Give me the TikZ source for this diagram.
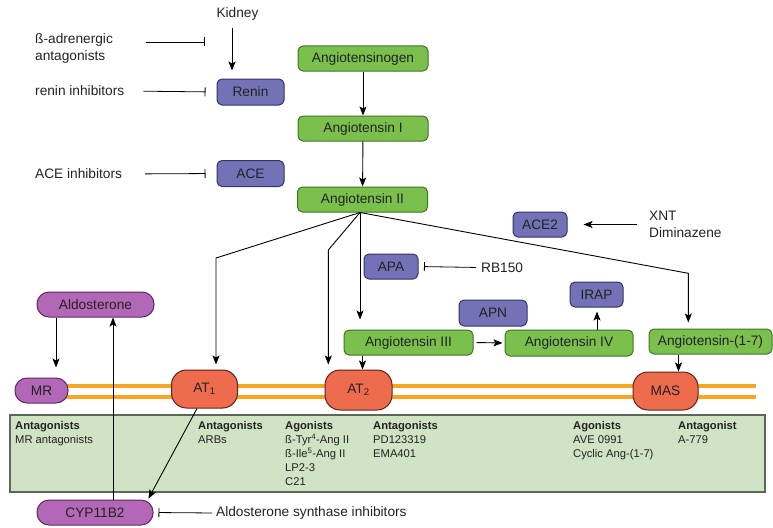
\documentclass[tikz,border=0pt]{standalone}
\usepackage{fontspec}
\setmainfont{Liberation Sans}
\usetikzlibrary{arrows.meta,calc}
\definecolor{txt}{HTML}{222222}
\definecolor{gfill}{HTML}{7BBF4C}
\definecolor{gline}{HTML}{3F7426}
\definecolor{bfill}{HTML}{7472B6}
\definecolor{bline}{HTML}{34336A}
\definecolor{mfill}{HTML}{B268B6}
\definecolor{mline}{HTML}{5E2A62}
\definecolor{rfill}{HTML}{EF6B4E}
\definecolor{rline}{HTML}{5E2418}
\definecolor{memb}{HTML}{F6A623}
\definecolor{pfill}{HTML}{D0E3C4}
\definecolor{pline}{HTML}{5A6857}
\begin{document}
\begin{tikzpicture}[x=1pt,y=-1pt,
  font=\fontsize{13.7}{17.5}\selectfont,
  every node/.style={text=txt},
  box/.style={rounded corners=5pt, line width=1pt, minimum height=25pt, inner sep=0pt},
  green/.style={box, fill=gfill, draw=gline, minimum width=130pt},
  enz/.style={box, fill=bfill, draw=bline, minimum width=54pt},
  mag/.style={box, fill=mfill, draw=mline, rounded corners=12pt},
  rec/.style={draw=rline, fill=rfill, rounded corners=15pt, minimum width=66pt, minimum height=38pt, line width=1pt, inner sep=0pt},
  lbl/.style={inner sep=1pt, align=left},
  ptxt/.style={font=\fontsize{11.2}{14}\selectfont, anchor=north west, inner sep=0pt, align=left},
  panel/.style={draw=pline, fill=pfill, line width=1.2pt, minimum width=755pt, minimum height=77pt, inner sep=0pt},
  arr/.style={-{Stealth[length=9pt,width=7pt,inset=2pt]}, line width=0.9pt},
  inh/.style={-{Bar[width=9pt]}, line width=0.8pt},
  membrane/.style={draw=memb, line width=4pt}]
\useasboundingbox (0,0) rectangle (773,527);

% membrane and panel
\draw[membrane] (60,386) -- (756,386);
\draw[membrane] (60,397) -- (756,397);
\node[panel] (panel) at (387.5,453.5) {};

% left texts
\node[lbl] (kidney) at (237.5,14) {Kidney};
\node[lbl, anchor=west] (beta) at (34,48.5) {ß-adrenergic\\antagonists};
\node[lbl, anchor=west] (ri) at (34,91) {renin inhibitors};
\node[lbl, anchor=west] (acei) at (34,174) {ACE inhibitors};
\coordinate (ba1) at (146,42);
\coordinate (ba2) at (205,42);

% enzymes
\node[enz, minimum width=67pt, minimum height=26pt] (renin) at (250.5,92) {Renin};
\node[enz, minimum width=67pt, minimum height=26pt] (ace) at (250.5,173.5) {ACE};
\node[enz] (ace2) at (540,224.5) {ACE2};
\node[enz] (apa) at (391,266.5) {APA};
\node[enz, minimum width=68pt, minimum height=26pt] (apn) at (493,313) {APN};
\node[enz, minimum width=53pt] (irap) at (596.5,294.5) {IRAP};

% angiotensins
\node[green] (aogen) at (363,58.5) {Angiotensinogen};
\node[green] (ang1) at (363,128.5) {Angiotensin I};
\node[green] (ang2) at (362.5,199.5) {Angiotensin II};
\node[green, minimum width=129pt] (ang3) at (408.5,342.5) {Angiotensin III};
\node[green, minimum width=128pt, minimum height=26pt] (ang4) at (569,343) {Angiotensin IV};
\node[green, minimum width=123pt] (a17) at (710.5,341.5) {Angiotensin-(1-7)};

% other texts
\node[lbl, anchor=west] (xnt) at (648,224.5) {XNT\\Diminazene};
\node[lbl, anchor=west] (rb) at (480,267.5) {RB150};
\node[lbl, anchor=west] (asi) at (215,513) {Aldosterone synthase inhibitors};

% magenta nodes
\node[mag, minimum width=117pt] (ald) at (95.5,304.5) {Aldosterone};
\node[mag, minimum width=53pt] (mr) at (41.5,390.5) {MR};
\node[mag, minimum width=116pt] (cyp) at (95,512.5) {CYP11B2};

% receptors
\node[rec] (at1) at (204.5,389) {AT\textsubscript{1}};
\node[rec, minimum width=67pt, minimum height=40pt] (at2) at (358.5,390) {AT\textsubscript{2}};
\node[rec, minimum width=65pt] (mas) at (665.5,391) {MAS};

% panel texts
\node[ptxt] (c1) at (15,421) {\textbf{Antagonists}\\MR antagonists};
\node[ptxt] (c2) at (198,421) {\textbf{Antagonists}\\ARBs};
\node[ptxt] (c3) at (285,421) {\textbf{Agonists}\\ß-Tyr\textsuperscript{4}-Ang II\\ß-Ile\textsuperscript{5}-Ang II\\LP2-3\\C21};
\node[ptxt] (c4) at (373,421) {\textbf{Antagonists}\\PD123319\\EMA401};
\node[ptxt] (c5) at (573,421) {\textbf{Agonists}\\AVE 0991\\Cyclic Ang-(1-7)};
\node[ptxt] (c6) at (678,421) {\textbf{Antagonist}\\A-779};

% helper coordinates
\coordinate (pk) at ($(kidney.south)+(-5.5,0)$);
\coordinate (a2) at ($(ang2.south)+(-2.5,0)$);
\coordinate (p3) at ($(ang3.south)+(-46,0)$);
\coordinate (p4) at ($(irap.south)+(0.5,0)$);
\coordinate (p17) at ($(a17.south)+(-32,0)$);
\coordinate (pal) at ($(ald.south)+(-39.5,0)$);
\coordinate (pcy) at ($(cyp.north)+(18,0)$);
\coordinate (t1) at ($(at1.north)+(11.5,0)$);
\coordinate (t2) at ($(at2.north)+(-30.2,0)$);
\coordinate (t17) at ($(a17.north)+(-22.2,0)$);
\coordinate (pat) at ($(at1.south)+(-7.5,0)$);
\coordinate (tcy) at ($(cyp.north)+(53,0)$);

% inhibitions
\draw[inh] (ba1) -- (ba2);
\draw[inh, shorten <=18pt, shorten >=11pt] (ri.east) -- (renin.west);
\draw[inh, shorten <=22pt, shorten >=11pt] (acei.east) -- (ace.west);
\draw[inh, shorten <=4pt, shorten >=5.5pt] (rb.west) -- (apa.east);
\draw[inh, shorten <=3pt, shorten >=5pt] (asi.west) -- (cyp.east);

% activations
\draw[arr, shorten <=6pt, shorten >=8pt] (pk) -- (pk |- renin.north);
\draw[arr] (aogen) -- (ang1);
\draw[arr] (ang1) -- (ang2);
\draw[arr, shorten <=11pt, shorten >=16pt] (xnt.west |- ace2.east) -- (ace2.east);
\draw[arr, shorten >=5pt] (a2) -- (216,258) -- (t1);
\draw[arr, shorten >=5pt] (a2) -- (328.3,250) -- (t2);
\draw[arr, shorten >=10pt] (a2) -- (a2 |- ang3.north);
\draw[arr, shorten >=6pt] (a2) -- (688.3,273.3) -- (t17);
\draw[arr] (p3) -- (p3 |- at2.north);
\draw[arr, shorten <=3pt, shorten >=2pt] (ang3.east) -- (ang4.west);
\draw[arr, shorten >=4pt] (p4 |- ang4.north) -- (p4);
\draw[arr] (p17) -- (p17 |- mas.north);
\draw[arr, shorten >=10pt] (pal) -- (pal |- mr.north);
\draw[arr] (pcy) -- (pcy |- ald.south);
\draw[arr, shorten >=1pt] (pat) -- (tcy);
\end{tikzpicture}
\end{document}
